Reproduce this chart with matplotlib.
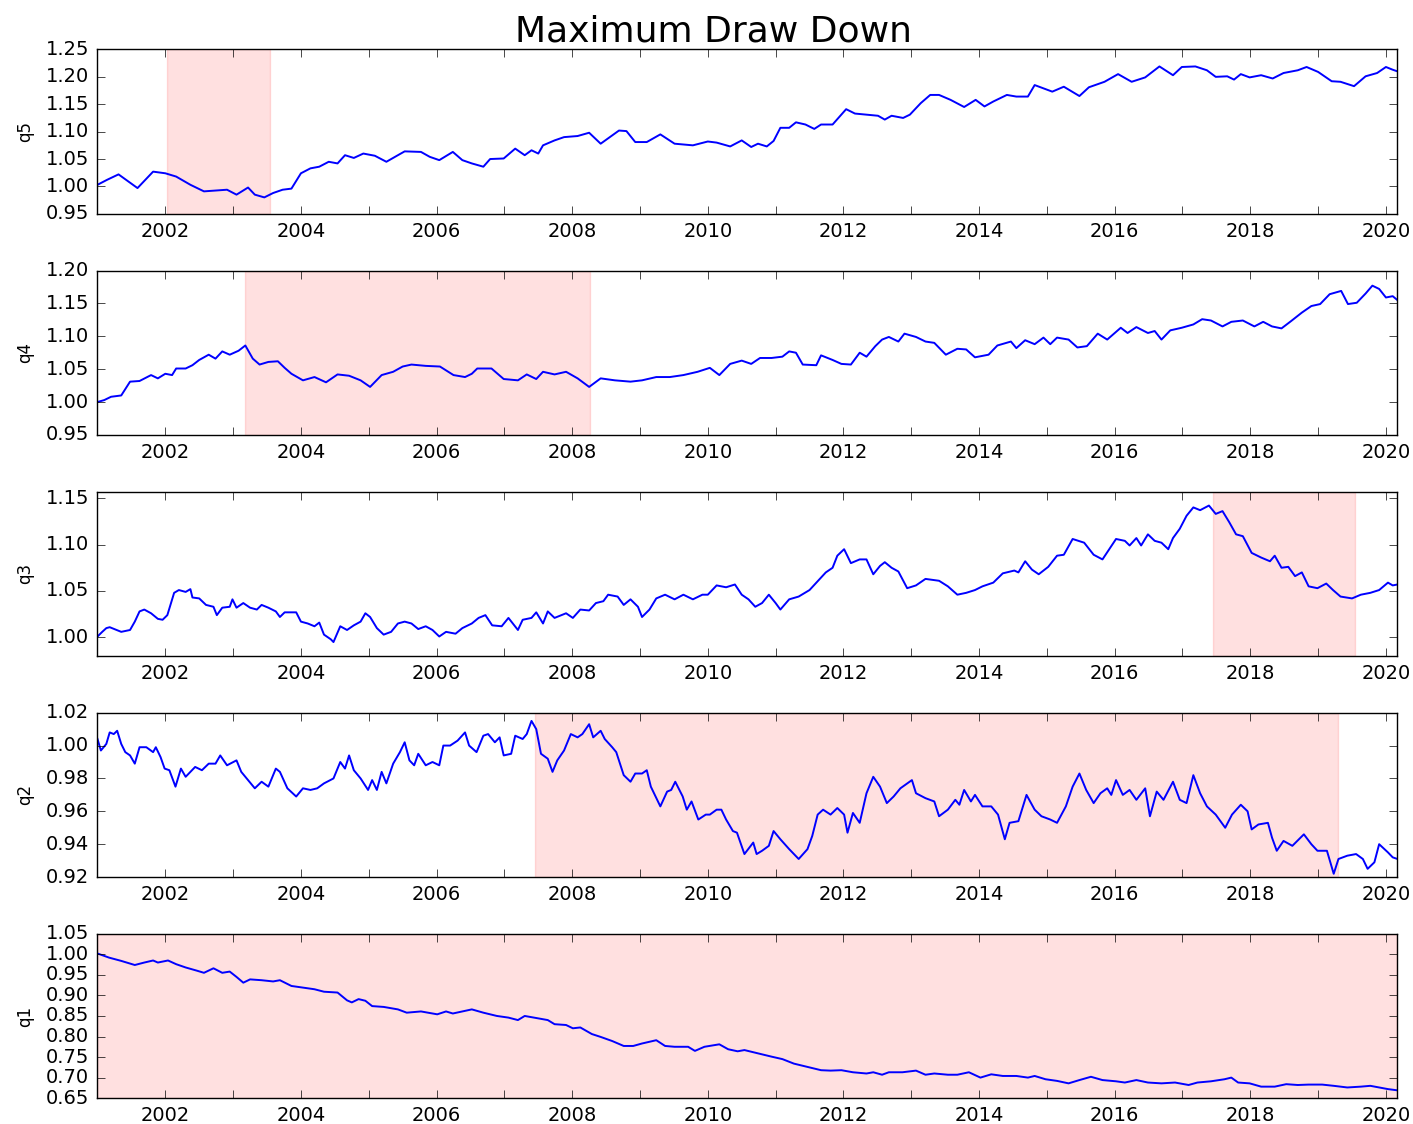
import numpy as np
import matplotlib
matplotlib.use("Agg")
import matplotlib.pyplot as plt

# values (time in fractional years)
q5_t = [2001.0, 2001.14, 2001.31, 2001.59, 2001.82, 2002.0, 2002.16, 2002.37, 2002.57, 2002.91,
        2003.05, 2003.22, 2003.32, 2003.46, 2003.59, 2003.73, 2003.86, 2004.0, 2004.14, 2004.27,
        2004.41, 2004.54, 2004.65, 2004.78, 2004.92, 2005.09, 2005.26, 2005.43, 2005.53, 2005.77,
        2005.9, 2006.04, 2006.24, 2006.38, 2006.52, 2006.69, 2006.79, 2006.99, 2007.16, 2007.3,
        2007.4, 2007.5, 2007.57, 2007.74, 2007.88, 2008.08, 2008.25, 2008.42, 2008.69, 2008.8,
        2008.93, 2009.1, 2009.3, 2009.51, 2009.78, 2010.0, 2010.13, 2010.33, 2010.5, 2010.64,
        2010.74, 2010.87, 2010.97, 2011.07, 2011.2, 2011.3, 2011.44, 2011.57, 2011.67, 2011.84,
        2012.04, 2012.17, 2012.34, 2012.51, 2012.61, 2012.71, 2012.88, 2012.98, 2013.14, 2013.28,
        2013.41, 2013.58, 2013.78, 2013.95, 2014.08, 2014.21, 2014.41, 2014.55, 2014.72, 2014.82,
        2014.95, 2015.08, 2015.25, 2015.48, 2015.62, 2015.85, 2016.05, 2016.25, 2016.45, 2016.66,
        2016.86, 2016.99, 2017.19, 2017.36, 2017.49, 2017.66, 2017.76, 2017.86, 2017.99, 2018.16,
        2018.33, 2018.49, 2018.7, 2018.83, 2019.0, 2019.2, 2019.33, 2019.53, 2019.7, 2019.87,
        2020.0, 2020.1, 2020.17]
q5_v = [1.003, 1.012, 1.022, 0.997, 1.027, 1.024, 1.018, 1.003, 0.991, 0.994,
        0.985, 0.998, 0.985, 0.980, 0.988, 0.994, 0.996, 1.024, 1.033, 1.036,
        1.045, 1.042, 1.057, 1.052, 1.060, 1.056, 1.045, 1.057, 1.064, 1.063,
        1.054, 1.048, 1.063, 1.048, 1.042, 1.036, 1.050, 1.051, 1.069, 1.057,
        1.066, 1.060, 1.075, 1.084, 1.090, 1.092, 1.098, 1.078, 1.102, 1.101,
        1.081, 1.081, 1.095, 1.078, 1.075, 1.082, 1.080, 1.073, 1.084, 1.072,
        1.078, 1.073, 1.083, 1.107, 1.107, 1.117, 1.113, 1.105, 1.113, 1.113,
        1.141, 1.133, 1.131, 1.129, 1.122, 1.129, 1.125, 1.131, 1.152, 1.167,
        1.167, 1.158, 1.145, 1.158, 1.146, 1.155, 1.167, 1.164, 1.164, 1.185,
        1.179, 1.173, 1.182, 1.165, 1.181, 1.191, 1.205, 1.191, 1.199, 1.219,
        1.203, 1.218, 1.219, 1.212, 1.200, 1.201, 1.195, 1.205, 1.199, 1.203,
        1.197, 1.207, 1.212, 1.218, 1.209, 1.192, 1.191, 1.183, 1.201, 1.207,
        1.218, 1.213, 1.210]

q4_t = [2001.0, 2001.1, 2001.2, 2001.35, 2001.48, 2001.62, 2001.79, 2001.89, 2002.0, 2002.1,
        2002.16, 2002.3, 2002.4, 2002.5, 2002.64, 2002.74, 2002.84, 2002.95, 2003.08, 2003.18,
        2003.29, 2003.39, 2003.52, 2003.66, 2003.76, 2003.86, 2004.03, 2004.2, 2004.37, 2004.54,
        2004.71, 2004.88, 2005.02, 2005.19, 2005.36, 2005.5, 2005.63, 2005.84, 2006.05, 2006.25,
        2006.42, 2006.52, 2006.6, 2006.81, 2006.99, 2007.2, 2007.33, 2007.47, 2007.57, 2007.74,
        2007.91, 2008.08, 2008.25, 2008.42, 2008.63, 2008.86, 2009.03, 2009.24, 2009.44, 2009.64,
        2009.85, 2010.03, 2010.17, 2010.33, 2010.5, 2010.64, 2010.77, 2010.94, 2011.1, 2011.2,
        2011.3, 2011.4, 2011.6, 2011.67, 2011.84, 2011.97, 2012.11, 2012.24, 2012.34, 2012.47,
        2012.57, 2012.67, 2012.81, 2012.9, 2013.07, 2013.21, 2013.34, 2013.51, 2013.68, 2013.81,
        2013.94, 2014.14, 2014.27, 2014.47, 2014.55, 2014.68, 2014.82, 2014.95, 2015.05, 2015.15,
        2015.32, 2015.45, 2015.59, 2015.75, 2015.89, 2016.09, 2016.19, 2016.32, 2016.49, 2016.59,
        2016.69, 2016.82, 2016.99, 2017.16, 2017.29, 2017.42, 2017.59, 2017.72, 2017.89, 2018.06,
        2018.19, 2018.32, 2018.46, 2018.6, 2018.76, 2018.9, 2019.03, 2019.17, 2019.34, 2019.44,
        2019.57, 2019.7, 2019.8, 2019.9, 2020.0, 2020.1, 2020.17]
q4_v = [1.000, 1.003, 1.008, 1.010, 1.031, 1.032, 1.041, 1.036, 1.043, 1.041,
        1.051, 1.051, 1.056, 1.064, 1.072, 1.066, 1.077, 1.072, 1.078, 1.086,
        1.066, 1.057, 1.061, 1.062, 1.052, 1.043, 1.033, 1.038, 1.030, 1.042,
        1.040, 1.033, 1.023, 1.041, 1.046, 1.054, 1.057, 1.055, 1.054, 1.041,
        1.038, 1.043, 1.051, 1.051, 1.035, 1.033, 1.042, 1.035, 1.046, 1.042,
        1.046, 1.036, 1.023, 1.036, 1.033, 1.031, 1.033, 1.038, 1.038, 1.041,
        1.046, 1.052, 1.041, 1.058, 1.063, 1.058, 1.067, 1.067, 1.069, 1.077,
        1.075, 1.057, 1.056, 1.071, 1.064, 1.058, 1.057, 1.075, 1.069, 1.085,
        1.095, 1.099, 1.092, 1.104, 1.099, 1.092, 1.090, 1.072, 1.081, 1.080,
        1.068, 1.072, 1.086, 1.092, 1.082, 1.094, 1.088, 1.098, 1.088, 1.098,
        1.095, 1.083, 1.085, 1.104, 1.095, 1.113, 1.105, 1.114, 1.105, 1.108,
        1.095, 1.109, 1.113, 1.118, 1.126, 1.124, 1.115, 1.122, 1.124, 1.115,
        1.122, 1.115, 1.112, 1.123, 1.136, 1.146, 1.149, 1.164, 1.169, 1.149,
        1.151, 1.165, 1.177, 1.172, 1.159, 1.161, 1.155]

q3_t = [2001.0, 2001.07, 2001.13, 2001.18, 2001.28, 2001.35, 2001.48, 2001.55, 2001.62, 2001.69,
        2001.79, 2001.89, 2001.96, 2002.03, 2002.13, 2002.2, 2002.3, 2002.37, 2002.4, 2002.5,
        2002.6, 2002.71, 2002.76, 2002.84, 2002.95, 2002.99, 2003.05, 2003.15, 2003.25, 2003.35,
        2003.42, 2003.52, 2003.63, 2003.69, 2003.76, 2003.93, 2004.0, 2004.1, 2004.2, 2004.27,
        2004.34, 2004.44, 2004.48, 2004.58, 2004.68, 2004.78, 2004.88, 2004.95, 2005.02, 2005.12,
        2005.22, 2005.33, 2005.43, 2005.53, 2005.63, 2005.73, 2005.84, 2005.94, 2006.04, 2006.14,
        2006.28, 2006.38, 2006.52, 2006.62, 2006.72, 2006.82, 2006.96, 2007.06, 2007.2, 2007.27,
        2007.4, 2007.47, 2007.57, 2007.64, 2007.74, 2007.91, 2008.01, 2008.12, 2008.25, 2008.35,
        2008.46, 2008.53, 2008.67, 2008.76, 2008.86, 2008.97, 2009.03, 2009.14, 2009.24, 2009.37,
        2009.51, 2009.64, 2009.78, 2009.92, 2010.0, 2010.13, 2010.27, 2010.4, 2010.5, 2010.6,
        2010.7, 2010.8, 2010.9, 2011.0, 2011.07, 2011.2, 2011.34, 2011.5, 2011.64, 2011.74,
        2011.84, 2011.91, 2012.01, 2012.11, 2012.24, 2012.34, 2012.44, 2012.54, 2012.61, 2012.71,
        2012.81, 2012.94, 2013.07, 2013.21, 2013.41, 2013.54, 2013.68, 2013.81, 2013.94, 2014.05,
        2014.21, 2014.35, 2014.52, 2014.58, 2014.68, 2014.78, 2014.88, 2015.02, 2015.15, 2015.25,
        2015.38, 2015.55, 2015.69, 2015.82, 2015.92, 2016.02, 2016.15, 2016.22, 2016.32, 2016.39,
        2016.49, 2016.59, 2016.69, 2016.79, 2016.86, 2016.96, 2017.06, 2017.16, 2017.26, 2017.39,
        2017.49, 2017.59, 2017.69, 2017.79, 2017.89, 2018.02, 2018.16, 2018.29, 2018.36, 2018.46,
        2018.56, 2018.66, 2018.76, 2018.86, 2018.99, 2019.12, 2019.22, 2019.33, 2019.5, 2019.63,
        2019.77, 2019.9, 2020.03, 2020.1, 2020.17]
q3_v = [1.001, 1.006, 1.010, 1.011, 1.008, 1.006, 1.008, 1.017, 1.028, 1.030,
        1.026, 1.020, 1.019, 1.024, 1.048, 1.051, 1.049, 1.052, 1.043, 1.042,
        1.035, 1.033, 1.024, 1.032, 1.033, 1.041, 1.032, 1.037, 1.032, 1.030,
        1.035, 1.032, 1.028, 1.022, 1.027, 1.027, 1.017, 1.015, 1.012, 1.016,
        1.003, 0.998, 0.995, 1.012, 1.008, 1.013, 1.017, 1.026, 1.022, 1.010,
        1.003, 1.006, 1.015, 1.017, 1.015, 1.009, 1.012, 1.008, 1.001, 1.006,
        1.004, 1.010, 1.015, 1.021, 1.024, 1.013, 1.012, 1.021, 1.008, 1.019,
        1.021, 1.027, 1.015, 1.028, 1.021, 1.026, 1.021, 1.030, 1.029, 1.037,
        1.039, 1.046, 1.044, 1.035, 1.041, 1.033, 1.022, 1.030, 1.042, 1.046,
        1.041, 1.046, 1.041, 1.046, 1.046, 1.056, 1.054, 1.057, 1.046, 1.041,
        1.033, 1.037, 1.046, 1.037, 1.030, 1.041, 1.044, 1.051, 1.062, 1.070,
        1.075, 1.088, 1.095, 1.080, 1.084, 1.084, 1.068, 1.077, 1.081, 1.075,
        1.071, 1.053, 1.056, 1.063, 1.061, 1.055, 1.046, 1.048, 1.051, 1.055,
        1.059, 1.069, 1.072, 1.070, 1.082, 1.073, 1.068, 1.076, 1.088, 1.089,
        1.106, 1.102, 1.089, 1.084, 1.095, 1.106, 1.104, 1.099, 1.107, 1.099,
        1.111, 1.104, 1.102, 1.095, 1.107, 1.117, 1.131, 1.140, 1.137, 1.142,
        1.133, 1.136, 1.124, 1.111, 1.109, 1.091, 1.086, 1.082, 1.088, 1.075,
        1.076, 1.066, 1.070, 1.055, 1.053, 1.058, 1.051, 1.044, 1.042, 1.046,
        1.048, 1.051, 1.059, 1.056, 1.057]

q2_t = [2001.0, 2001.05, 2001.13, 2001.18, 2001.24, 2001.29, 2001.35, 2001.41, 2001.48, 2001.55,
        2001.62, 2001.72, 2001.82, 2001.86, 2001.93, 2001.99, 2002.06, 2002.15, 2002.23, 2002.3,
        2002.37, 2002.44, 2002.54, 2002.64, 2002.74, 2002.81, 2002.91, 2003.05, 2003.12, 2003.22,
        2003.32, 2003.42, 2003.52, 2003.63, 2003.69, 2003.8, 2003.93, 2004.03, 2004.14, 2004.24,
        2004.34, 2004.48, 2004.58, 2004.65, 2004.71, 2004.78, 2004.88, 2004.99, 2005.05, 2005.12,
        2005.19, 2005.26, 2005.36, 2005.46, 2005.53, 2005.6, 2005.67, 2005.73, 2005.84, 2005.94,
        2006.04, 2006.1, 2006.2, 2006.31, 2006.42, 2006.48, 2006.59, 2006.69, 2006.76, 2006.86,
        2006.93, 2006.99, 2007.1, 2007.16, 2007.27, 2007.33, 2007.4, 2007.47, 2007.54, 2007.64,
        2007.71, 2007.78, 2007.88, 2007.98, 2008.08, 2008.15, 2008.25, 2008.31, 2008.42, 2008.48,
        2008.59, 2008.65, 2008.76, 2008.86, 2008.93, 2009.03, 2009.1, 2009.16, 2009.3, 2009.4,
        2009.46, 2009.52, 2009.63, 2009.69, 2009.76, 2009.86, 2009.97, 2010.03, 2010.13, 2010.2,
        2010.27, 2010.37, 2010.43, 2010.54, 2010.67, 2010.72, 2010.8, 2010.9, 2010.97, 2011.07,
        2011.2, 2011.34, 2011.47, 2011.54, 2011.62, 2011.7, 2011.81, 2011.91, 2012.01, 2012.06,
        2012.14, 2012.24, 2012.34, 2012.44, 2012.54, 2012.64, 2012.74, 2012.84, 2013.01, 2013.07,
        2013.21, 2013.34, 2013.41, 2013.54, 2013.65, 2013.71, 2013.78, 2013.88, 2013.94, 2014.05,
        2014.18, 2014.28, 2014.38, 2014.45, 2014.58, 2014.7, 2014.82, 2014.92, 2015.05, 2015.15,
        2015.28, 2015.38, 2015.48, 2015.58, 2015.69, 2015.79, 2015.89, 2015.95, 2016.02, 2016.12,
        2016.22, 2016.32, 2016.45, 2016.52, 2016.62, 2016.72, 2016.86, 2016.96, 2017.06, 2017.16,
        2017.26, 2017.36, 2017.49, 2017.63, 2017.73, 2017.86, 2017.96, 2018.02, 2018.12, 2018.26,
        2018.32, 2018.39, 2018.49, 2018.62, 2018.79, 2018.9, 2018.99, 2019.13, 2019.23, 2019.3,
        2019.43, 2019.56, 2019.66, 2019.73, 2019.83, 2019.9, 2020.03, 2020.1, 2020.17]
q2_v = [1.004, 0.997, 1.001, 1.008, 1.007, 1.009, 1.001, 0.996, 0.994, 0.989,
        0.999, 0.999, 0.996, 0.999, 0.993, 0.986, 0.985, 0.975, 0.986, 0.981,
        0.984, 0.987, 0.985, 0.989, 0.989, 0.994, 0.988, 0.991, 0.984, 0.979,
        0.974, 0.978, 0.975, 0.986, 0.984, 0.974, 0.969, 0.974, 0.973, 0.974,
        0.977, 0.980, 0.990, 0.986, 0.994, 0.985, 0.980, 0.973, 0.979, 0.973,
        0.984, 0.977, 0.989, 0.996, 1.002, 0.991, 0.988, 0.995, 0.988, 0.990,
        0.988, 1.000, 1.000, 1.003, 1.008, 1.000, 0.996, 1.006, 1.007, 1.002,
        1.005, 0.994, 0.995, 1.006, 1.004, 1.007, 1.015, 1.010, 0.995, 0.992,
        0.984, 0.991, 0.997, 1.007, 1.005, 1.007, 1.013, 1.005, 1.009, 1.004,
        0.999, 0.996, 0.982, 0.978, 0.983, 0.983, 0.985, 0.975, 0.963, 0.972,
        0.973, 0.978, 0.969, 0.961, 0.966, 0.955, 0.958, 0.958, 0.961, 0.961,
        0.955, 0.948, 0.947, 0.934, 0.941, 0.934, 0.936, 0.939, 0.948, 0.943,
        0.937, 0.931, 0.937, 0.945, 0.958, 0.961, 0.958, 0.962, 0.958, 0.947,
        0.959, 0.953, 0.971, 0.981, 0.975, 0.965, 0.969, 0.974, 0.979, 0.971,
        0.968, 0.966, 0.957, 0.961, 0.967, 0.964, 0.973, 0.966, 0.970, 0.963,
        0.963, 0.958, 0.943, 0.953, 0.954, 0.970, 0.961, 0.957, 0.955, 0.953,
        0.963, 0.975, 0.983, 0.973, 0.965, 0.971, 0.974, 0.970, 0.979, 0.970,
        0.973, 0.967, 0.974, 0.957, 0.972, 0.967, 0.978, 0.967, 0.965, 0.982,
        0.971, 0.963, 0.958, 0.950, 0.958, 0.964, 0.960, 0.949, 0.952, 0.953,
        0.944, 0.936, 0.942, 0.939, 0.946, 0.940, 0.936, 0.936, 0.922, 0.931,
        0.933, 0.934, 0.931, 0.925, 0.929, 0.940, 0.935, 0.932, 0.931]

q1_t = [2001.0, 2001.17, 2001.35, 2001.55, 2001.69, 2001.82, 2001.89, 2002.04, 2002.16, 2002.3,
        2002.47, 2002.57, 2002.71, 2002.84, 2002.95, 2003.05, 2003.15, 2003.25, 2003.42, 2003.59,
        2003.69, 2003.86, 2004.03, 2004.2, 2004.34, 2004.54, 2004.68, 2004.75, 2004.85, 2004.95,
        2005.05, 2005.22, 2005.43, 2005.56, 2005.77, 2006.01, 2006.14, 2006.24, 2006.38, 2006.52,
        2006.69, 2006.89, 2007.06, 2007.2, 2007.3, 2007.47, 2007.64, 2007.74, 2007.91, 2008.01,
        2008.12, 2008.29, 2008.42, 2008.59, 2008.76, 2008.9, 2009.03, 2009.24, 2009.37, 2009.51,
        2009.71, 2009.81, 2009.95, 2010.17, 2010.3, 2010.44, 2010.54, 2010.74, 2010.94, 2011.1,
        2011.27, 2011.47, 2011.67, 2011.81, 2011.97, 2012.14, 2012.34, 2012.44, 2012.57, 2012.67,
        2012.87, 2013.07, 2013.21, 2013.34, 2013.54, 2013.68, 2013.85, 2014.02, 2014.18, 2014.35,
        2014.55, 2014.72, 2014.82, 2014.98, 2015.15, 2015.32, 2015.48, 2015.65, 2015.82, 2016.02,
        2016.15, 2016.32, 2016.49, 2016.69, 2016.89, 2017.09, 2017.22, 2017.42, 2017.62, 2017.72,
        2017.82, 2017.99, 2018.16, 2018.36, 2018.53, 2018.7, 2018.86, 2019.06, 2019.23, 2019.43,
        2019.63, 2019.77, 2019.9, 2020.03, 2020.17]
q1_v = [1.002, 0.992, 0.984, 0.974, 0.980, 0.985, 0.980, 0.985, 0.976, 0.968,
        0.960, 0.955, 0.966, 0.955, 0.958, 0.945, 0.931, 0.939, 0.937, 0.934,
        0.937, 0.923, 0.919, 0.915, 0.909, 0.907, 0.888, 0.883, 0.891, 0.887,
        0.874, 0.872, 0.866, 0.858, 0.861, 0.854, 0.861, 0.856, 0.861, 0.866,
        0.858, 0.850, 0.846, 0.840, 0.850, 0.845, 0.840, 0.830, 0.828, 0.820,
        0.822, 0.806, 0.799, 0.789, 0.777, 0.777, 0.783, 0.791, 0.777, 0.775,
        0.775, 0.765, 0.775, 0.781, 0.769, 0.764, 0.767, 0.759, 0.751, 0.745,
        0.734, 0.726, 0.718, 0.717, 0.718, 0.713, 0.710, 0.713, 0.707, 0.713,
        0.713, 0.717, 0.707, 0.710, 0.707, 0.707, 0.713, 0.700, 0.708, 0.704,
        0.704, 0.700, 0.704, 0.696, 0.692, 0.686, 0.694, 0.702, 0.694, 0.691,
        0.688, 0.694, 0.688, 0.686, 0.688, 0.682, 0.688, 0.691, 0.696, 0.700,
        0.688, 0.686, 0.678, 0.678, 0.684, 0.682, 0.683, 0.683, 0.680, 0.676,
        0.678, 0.680, 0.676, 0.672, 0.669]

names = ["q5", "q4", "q3", "q2", "q1"]
series_t = [q5_t, q4_t, q3_t, q2_t, q1_t]
series_v = [q5_v, q4_v, q3_v, q2_v, q1_v]

# maximum draw down windows (start, end) in fractional years
dd_start = [2002.03, 2003.18, 2017.45, 2007.45, 2001.0]
dd_end = [2003.54, 2008.26, 2019.55, 2019.29, 2020.17]

y_lims = [(0.95, 1.25), (0.95, 1.20), (0.98, 1.157), (0.92, 1.02), (0.65, 1.05)]
y_steps = [0.05, 0.05, 0.05, 0.02, 0.05]

plt.style.use("classic")
fig, axes = plt.subplots(5, 1, figsize=(14.13, 11.24), dpi=100)
fig.patch.set_facecolor("white")
fig.subplots_adjust(left=0.069, right=0.989, top=0.956, bottom=0.023, hspace=0.345)

for ax, name, t, v, s, e, lim, step in zip(axes, names, series_t, series_v,
                                            dd_start, dd_end, y_lims, y_steps):
    ax.axvspan(s, e, color="red", alpha=0.12)
    ax.plot(t, v, color="b", lw=1.4)
    ax.set_xlim(t[0], t[-1])
    ax.set_ylim(*lim)
    ticks = np.arange(np.ceil(lim[0] / step - 1e-6) * step, lim[1] + 1e-9, step)
    ax.set_yticks(ticks)
    ax.set_yticklabels(["%.2f" % x for x in ticks])
    years = np.arange(2001, 2021)
    ax.set_xticks(years)
    ax.set_xticklabels([str(y) if y % 2 == 0 else "" for y in years])
    ax.tick_params(labelsize=14, length=6)
    ax.tick_params(axis="x", pad=6)
    ax.tick_params(axis="y", pad=6)
    ax.set_ylabel(name, fontsize=12)
    ax.yaxis.set_label_coords(-0.049, 0.5)

fig.suptitle("Maximum Draw Down", fontsize=26, x=0.505, y=0.972, va="center")
fig.savefig("out.png", dpi=100, facecolor="white")
